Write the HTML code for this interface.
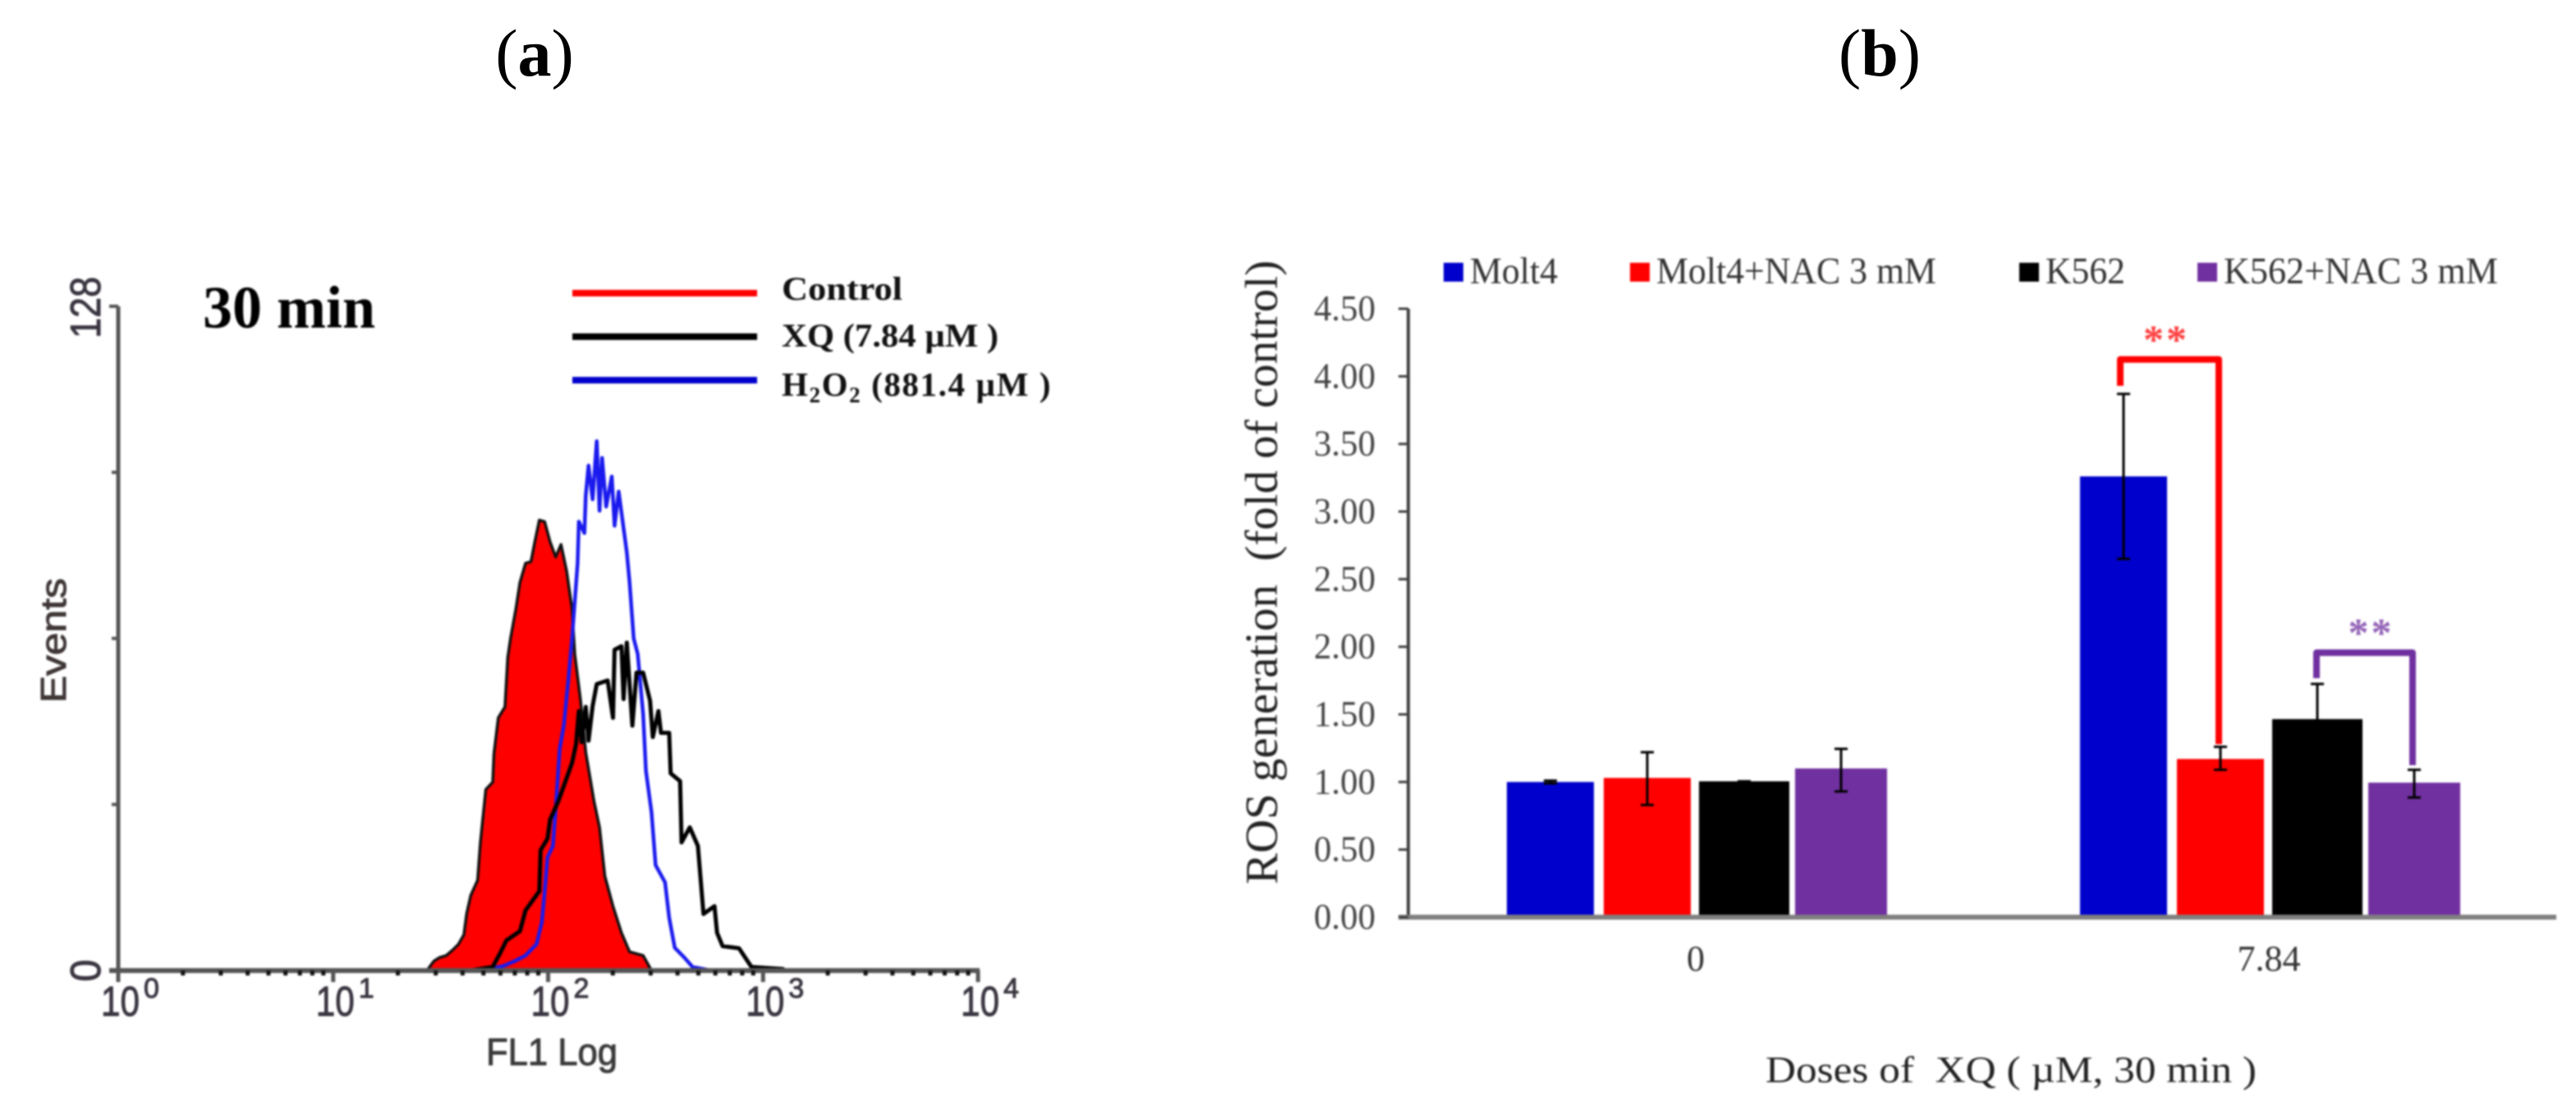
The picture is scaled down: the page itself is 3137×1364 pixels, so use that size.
<!DOCTYPE html>
<html lang="en">
<head>
<meta charset="utf-8">
<title>ROS flow cytometry and bar chart</title>
<style>
html,body{margin:0;padding:0;background:#fff;}
body{width:3137px;height:1364px;overflow:hidden;}
svg{display:block;}
text{white-space:pre;}
.serif{font-family:"Liberation Serif",serif;}
.sans{font-family:"Liberation Sans",sans-serif;stroke:currentColor;stroke-width:1;}
.soft{filter:blur(1px);}
</style>
</head>
<body>
<svg id="figure" xmlns="http://www.w3.org/2000/svg" width="3137" height="1364" viewBox="0 0 3137 1364">
  <text class="serif" x="651" y="92" font-size="82" text-anchor="middle" fill="#000">(<tspan font-weight="bold">a</tspan>)</text>
  <text class="serif" x="2289" y="92" font-size="82" text-anchor="middle" fill="#000">(<tspan font-weight="bold">b</tspan>)</text>

  <g id="panelA" class="soft">
    <g id="histMarks"></g>
    <g id="histAxes"></g>
    <text class="serif" x="247" y="399" font-size="73" font-weight="bold" textLength="210" lengthAdjust="spacingAndGlyphs" fill="#000">30 min</text>
    <text class="sans" x="80" y="856" transform="rotate(-90 80 856)" font-size="44" textLength="152" lengthAdjust="spacingAndGlyphs" fill="#3f3636" color="#3f3636">Events</text>
    <text class="sans" x="592" y="1297" font-size="46" textLength="160" lengthAdjust="spacingAndGlyphs" fill="#3a3a3a" color="#3a3a3a">FL1 Log</text>

    <line x1="697" y1="357" x2="922" y2="357" stroke="#ff0000" stroke-width="8"/>
    <line x1="697" y1="410" x2="922" y2="410" stroke="#000" stroke-width="8"/>
    <line x1="697" y1="463" x2="922" y2="463" stroke="#0000cc" stroke-width="8"/>
    <text class="serif" x="952" y="365" font-size="40" font-weight="bold" textLength="147" lengthAdjust="spacingAndGlyphs" fill="#111">Control</text>
    <text class="serif" x="952" y="422" font-size="40" font-weight="bold" textLength="264" lengthAdjust="spacingAndGlyphs" fill="#111">XQ (7.84 µM )</text>
    <text class="serif" x="952" y="482" font-size="41" font-weight="bold" letter-spacing="1.6" fill="#111">H<tspan font-size="27" dy="8">2</tspan><tspan dy="-8">O</tspan><tspan font-size="27" dy="8">2</tspan><tspan dy="-8"> (881.4 µM )</tspan></text>
  </g>

  <g id="panelB" class="soft">
    <g id="barLegend"></g>
    <g id="barMarks"></g>
    <g id="barAxes"></g>
    <text class="serif" x="1555" y="1077" transform="rotate(-90 1555 1077)" font-size="56" textLength="760" lengthAdjust="spacingAndGlyphs" fill="#222">ROS generation  (fold of control)</text>
    <text class="serif" x="2150" y="1318" font-size="45" textLength="598" lengthAdjust="spacingAndGlyphs" fill="#222">Doses of  XQ ( µM, 30 min )</text>
  </g>
</svg>

<script>
// ---------- Panel (a) histogram data: log10(FL1) and event counts ----------
const decadeLabels = [0, 1, 2, 3, 4];
const minorMultipliers = [2, 3, 4, 5, 6, 7, 8, 9];
const eventTicks = [0, 32, 64, 96, 128];
const eventLabels = ['0', '', '', '', '128'];

const controlLog = [1.436,1.468,1.494,1.526,1.557,1.583,1.608,1.621,1.640,1.672,1.685,1.710,1.742,1.748,1.768,1.799,1.812,1.825,1.850,1.869,1.895,1.920,1.939,1.959,1.984,2.009,2.035,2.060,2.086,2.111,2.124,2.150,2.175,2.213,2.239,2.264,2.302,2.341,2.379,2.442,2.481];
const controlCounts = [0,1.8,2.5,2.9,4,5.1,6.9,11,14.5,17.4,24.7,34.9,36.3,41.8,48.7,50.8,60.3,64,69.7,74.8,78.5,78.8,82.8,86.8,86.5,82.6,79.7,82.1,77,69.7,60.9,52.3,42.1,32.7,27.6,18.2,12.4,7.3,3.6,2.9,0];

const h2o2Log = [1.666,1.742,1.793,1.844,1.895,1.946,1.971,1.984,1.997,2.022,2.035,2.054,2.073,2.092,2.111,2.124,2.137,2.143,2.169,2.175,2.188,2.207,2.226,2.239,2.251,2.270,2.296,2.309,2.328,2.347,2.366,2.379,2.398,2.417,2.442,2.455,2.481,2.500,2.544,2.563,2.589,2.634,2.672,2.748];
const h2o2Counts = [0.1,0.4,0.9,1.8,2.9,5.1,9.4,15.2,21.8,24,31.2,42.8,47.2,55.2,63.9,71.2,78.5,86.5,84.3,91.5,97.3,90.8,102,88.6,98.8,89.4,95.2,85.7,92.3,86.5,80.6,74.8,64,61,49.4,38.5,30.5,20.3,17,10.2,4.4,2.5,0.7,0.1];

const xqLog = [1.653,1.742,1.780,1.806,1.869,1.895,1.959,1.965,1.997,2.009,2.048,2.111,2.130,2.143,2.156,2.175,2.188,2.207,2.226,2.277,2.302,2.309,2.341,2.351,2.366,2.392,2.411,2.442,2.474,2.487,2.513,2.525,2.563,2.570,2.614,2.621,2.659,2.697,2.723,2.774,2.786,2.812,2.888,2.946,3.092];
const xqCounts = [0.1,0.7,3.6,5.8,7.6,11.6,15.3,23.2,25.4,29.1,32.7,40,43.6,50,44,50.8,44.3,51,55.2,55.9,48.7,61.8,62.5,52.3,63.2,47.2,57.4,57.4,52,45,50,45.8,45.8,38,36.5,24.7,27.6,24,10.9,12.4,7.3,4.7,4.3,0.7,0.3];

// ---------- Panel (b) bar chart data ----------
const doseLabels = ['0', '7.84'];
const seriesNames = ['Molt4', 'Molt4+NAC 3 mM', 'K562', 'K562+NAC 3 mM'];
const molt4Values = [1.00, 3.26];
const molt4NacValues = [1.03, 1.17];
const k562Values = [1.005, 1.465];
const k562NacValues = [1.10, 0.995];
const molt4Upper = [1.01, 3.87];
const molt4Lower = [0.99, 2.65];
const molt4NacUpper = [1.22, 1.26];
const molt4NacLower = [0.83, 1.09];
const k562Upper = [1.005, 1.725];
const k562Lower = [1.005, 1.205];
const k562NacUpper = [1.245, 1.09];
const k562NacLower = [0.93, 0.885];
const rosTicks = [0, 0.5, 1, 1.5, 2, 2.5, 3, 3.5, 4, 4.5];
const rosTickLabels = ['0.00','0.50','1.00','1.50','2.00','2.50','3.00','3.50','4.00','4.50'];
const redBracketLevels = [3.93, 4.125, 1.28];
const purpleBracketLevels = [1.768, 1.956, 1.124];

// ---------- helpers ----------
const NS = 'http://www.w3.org/2000/svg';
function mk(parent, tag, attrs, text) {
  const el = document.createElementNS(NS, tag);
  for (const k in attrs) el.setAttribute(k, attrs[k]);
  if (text !== undefined) el.textContent = text;
  parent.appendChild(el);
  return el;
}

// ---------- Panel (a) scales ----------
const histX = v => 144 + v * 261.75;
const histY = c => 1182 - c * (809 / 128);
function linePath(xs, ys) {
  let d = 'M' + histX(xs[0]).toFixed(1) + ' ' + histY(0).toFixed(1);
  for (let i = 0; i < xs.length; i++) {
    d += ' L' + histX(xs[i]).toFixed(1) + ' ' + histY(ys[i]).toFixed(1);
  }
  d += ' L' + histX(xs[xs.length - 1] + 0.01).toFixed(1) + ' ' + histY(0).toFixed(1);
  return d;
}
const histMarks = document.getElementById('histMarks');
const histAxes = document.getElementById('histAxes');

const controlCurve = mk(histMarks, 'path', {d: linePath(controlLog, controlCounts) + ' Z', fill: '#ff0000', stroke: '#111', 'stroke-width': 3.5, 'stroke-linejoin': 'round'});


const h2o2Curve = mk(histMarks, 'path', {d: linePath(h2o2Log, h2o2Counts), fill: 'none', stroke: '#1a1aee', 'stroke-width': 4.5, 'stroke-linejoin': 'round'});


const xqCurve = mk(histMarks, 'path', {d: linePath(xqLog, xqCounts), fill: 'none', stroke: '#000', 'stroke-width': 5, 'stroke-linejoin': 'round'});



const histYAxis = mk(histAxes, 'line', {x1: 144, y1: histY(128), x2: 144, y2: 1196, stroke: '#555', 'stroke-width': 5});


const histXAxis = mk(histAxes, 'line', {x1: 133, y1: 1182, x2: histX(4) + 2, y2: 1182, stroke: '#555', 'stroke-width': 6});



eventTicks.forEach((c, i) => {
  const tick = mk(histAxes, 'line', {x1: i === 4 ? 133 : 136, y1: histY(c), x2: 144, y2: histY(c), stroke: '#555', 'stroke-width': 4});
  
  
  if (eventLabels[i]) {
    const long = eventLabels[i].length > 1;
    const yc = long ? 374.5 : histY(c);
    const lab = mk(histAxes, 'text', {class: 'sans', x: 122, y: yc, transform: 'rotate(-90 122 ' + yc + ')', 'font-size': 52, 'text-anchor': 'middle', fill: '#3a3540', color: '#3a3540', textLength: long ? 75 : 27, lengthAdjust: 'spacingAndGlyphs'}, eventLabels[i]);
    
    
  }
});

decadeLabels.forEach((e, i) => {
  const x = histX(e);
  const tick = mk(histAxes, 'line', {x1: x, y1: 1182, x2: x, y2: 1196, stroke: '#555', 'stroke-width': 5});
  
  
  const base = mk(histAxes, 'text', {class: 'sans', x: x - 21, y: 1237, 'font-size': 51, fill: '#3a3540', color: '#3a3540', textLength: 47, lengthAdjust: 'spacingAndGlyphs'}, '10');
  
  
  const sup = mk(histAxes, 'text', {class: 'sans', x: x + 31, y: 1215, 'font-size': 34, fill: '#3a3540', color: '#3a3540'}, String(e));
  
  
  if (i < decadeLabels.length - 1) {
    minorMultipliers.forEach(m => {
      const mx = histX(e + Math.log10(m));
      const minor = mk(histAxes, 'line', {x1: mx, y1: 1182, x2: mx, y2: 1188, stroke: '#111', 'stroke-width': 5});
      
      
    });
  }
});

// ---------- Panel (b) scales ----------
const rosY = v => 1117 - v * (741 / 4.5);
const groupX = g => 2065 + g * 698;
const slotX = (g, s) => groupX(g) + (s - 1.5) * 118;
const seriesValues = [molt4Values, molt4NacValues, k562Values, k562NacValues];
const seriesUpper = [molt4Upper, molt4NacUpper, k562Upper, k562NacUpper];
const seriesLower = [molt4Lower, molt4NacLower, k562Lower, k562NacLower];
const seriesColors = ['#0000cc', '#ff0000', '#000000', '#7030a0'];
const seriesWidths = [106, 106, 110, 112];
const barMarks = document.getElementById('barMarks');
const barAxes = document.getElementById('barAxes');
const barLegend = document.getElementById('barLegend');

seriesValues.forEach((vals, s) => {
  vals.forEach((v, g) => {
    const cx = slotX(g, s);
    const bar = mk(barMarks, 'rect', {x: cx - seriesWidths[s] / 2, y: rosY(v), width: seriesWidths[s], height: rosY(0) - rosY(v), fill: seriesColors[s]});
    
    
  });
});

// axes
const barYAxis = mk(barAxes, 'line', {x1: 1715, y1: rosY(4.5), x2: 1715, y2: rosY(0), stroke: '#404040', 'stroke-width': 4});


const barXAxis = mk(barAxes, 'line', {x1: 1703, y1: rosY(0), x2: 3113, y2: rosY(0), stroke: '#7f7f7f', 'stroke-width': 6});


rosTicks.forEach((v, i) => {
  const tick = mk(barAxes, 'line', {x1: 1703, y1: rosY(v), x2: 1715, y2: rosY(v), stroke: '#404040', 'stroke-width': 3});
  
  
  const lab = mk(barAxes, 'text', {class: 'serif', x: 1600, y: rosY(v) + 14, 'font-size': 44, fill: '#444', textLength: 75, lengthAdjust: 'spacingAndGlyphs'}, rosTickLabels[i]);
  
  
});
doseLabels.forEach((d, g) => {
  const lab = mk(barAxes, 'text', {class: 'serif', x: groupX(g), y: 1182, 'font-size': 44, 'text-anchor': 'middle', fill: '#333'}, d);
  
  
});

// significance brackets (drawn before error bars so whiskers sit on top)
function bracket(g, sA, sB, levels, color, dxA, dxB, starDx, name) {
  const xa = slotX(g, sA) + dxA;
  const xb = slotX(g, sB) + dxB;
  const d = 'M' + xa + ' ' + rosY(levels[0]) + ' V' + rosY(levels[1]) + ' H' + xb + ' V' + rosY(levels[2]);
  const p = mk(barMarks, 'path', {d: d, fill: 'none', stroke: color, 'stroke-width': 8, 'stroke-linejoin': 'round'});
  
  
  const star = mk(barMarks, 'text', {class: 'serif', x: (xa + xb) / 2 + starDx, y: rosY(levels[1]) - 8, 'font-size': 50, 'font-weight': 'bold', 'text-anchor': 'middle', 'letter-spacing': 3, fill: color, opacity: 0.75}, '**');
  
  
}
bracket(1, 0, 1, redBracketLevels, '#ff0000', -4, -2, -4, 'significance-bracket-red');
bracket(1, 2, 3, purpleBracketLevels, '#7030a0', -1, -2, 8, 'significance-bracket-purple');

// error bars
seriesValues.forEach((vals, s) => {
  vals.forEach((v, g) => {
    const cx = slotX(g, s);
    const yu = rosY(seriesUpper[s][g]);
    const yl = rosY(seriesLower[s][g]);
    const stem = mk(barMarks, 'line', {x1: cx, y1: yu, x2: cx, y2: yl, stroke: '#000', 'stroke-width': 3});
    
    
    [yu, yl].forEach(y => {
      const cap = mk(barMarks, 'line', {x1: cx - 8, y1: y, x2: cx + 8, y2: y, stroke: '#000', 'stroke-width': 3});
      
      
    });
  });
});

// legend (layout of entries follows the legend row in the figure)
const legendSwatchX = [1758, 1985, 2459, 2676];
const legendLabelWidths = [107, 341, 97, 334];
seriesNames.forEach((name, s) => {
  const sw = mk(barLegend, 'rect', {x: legendSwatchX[s], y: 320, width: 24, height: 23, fill: seriesColors[s]});
  
  
  const t = mk(barLegend, 'text', {class: 'serif', x: legendSwatchX[s] + 32, y: 345, 'font-size': 46, fill: '#333', textLength: legendLabelWidths[s], lengthAdjust: 'spacingAndGlyphs'}, name);
  
  
});
</script>
</body>
</html>
